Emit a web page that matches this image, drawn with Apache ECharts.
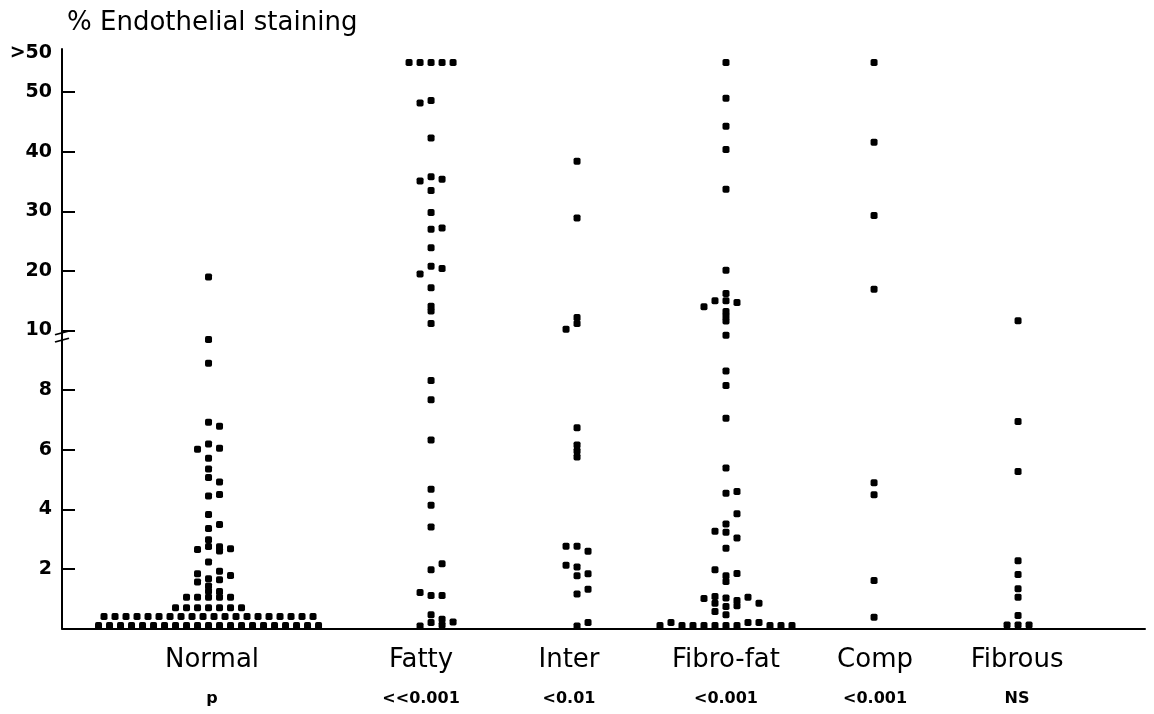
<!DOCTYPE html>
<html>
<head>
<meta charset="utf-8">
<script src="https://cdn.jsdelivr.net/npm/echarts@6/dist/echarts.min.js"></script>
<style>
html,body{margin:0;padding:0;background:#fff;}
#chart{width:1154px;height:714px;}
</style>
</head>
<body>
<div id="chart"></div>
<script>
// ---------- DATA ----------
const yTitle = '% Endothelial staining';
const categories = ['Normal', 'Fatty', 'Inter', 'Fibro-fat', 'Comp', 'Fibrous'];
const pValues = ['p', '<<0.001', '<0.01', '<0.001', '<0.001', 'NS'];

// y tick labels (0-10 linear, 10-50 compressed 5x, then ">50")
const yTickLabels = ['2', '4', '6', '8', '10', '20', '30', '40', '50', '>50'];

// each dot: [value (% staining), column within its dot-plot stack]
const normalDots = [
  [0.1,-10],[0.1,-9],[0.1,-8],[0.1,-7],[0.1,-6],[0.1,-5],[0.1,-4],[0.1,-3],[0.1,-2],[0.1,-1],[0.1,0],
  [0.1,1],[0.1,2],[0.1,3],[0.1,4],[0.1,5],[0.1,6],[0.1,7],[0.1,8],[0.1,9],[0.1,10],
  [0.4,-9.5],[0.4,-8.5],[0.4,-7.5],[0.4,-6.5],[0.4,-5.5],[0.4,-4.5],[0.4,-3.5],[0.4,-2.5],[0.4,-1.5],[0.4,-0.5],
  [0.4,0.5],[0.4,1.5],[0.4,2.5],[0.4,3.5],[0.4,4.5],[0.4,5.5],[0.4,6.5],[0.4,7.5],[0.4,8.5],[0.4,9.5],
  [0.7,-3],[0.7,-2],[0.7,-1],[0.7,0],[0.7,1],[0.7,2],[0.7,3],
  [1.05,-2],[1.05,-1],[1.05,0],[1.05,1],[1.05,2],
  [1.25,0],[1.43,0],[1.24,1],
  [1.84,-1],[1.56,-1],[1.67,0],[1.92,1],[1.64,1],[1.78,2],
  [2.23,0],
  [2.65,-1],[2.98,0],[2.75,0],[2.74,1],[2.6,1],[2.68,2],
  [3.36,0],[3.49,1],
  [3.83,0],
  [4.45,0],[4.5,1],
  [4.92,1],
  [5.07,0],[5.35,0],
  [5.71,0],
  [6.02,-1],[6.19,0],[6.05,1],
  [6.92,0],[6.79,1],
  [8.9,0],[9.7,0],[19,0]
];
const fattyDots = [
  ['>50',-2],['>50',-1],['>50',0],['>50',1],['>50',2],
  [48.2,-1],[48.6,0],
  [42.3,0],
  [35.1,-1],[35.8,0],[35.4,1],
  [33.5,0],[29.8,0],
  [27.0,0],[27.2,1],
  [23.9,0],
  [19.5,-1],[20.8,0],[20.4,1],
  [17.2,0],[14.1,0],[13.3,0],[11.2,0],
  [8.32,0],[7.68,0],[6.33,0],[4.67,0],[4.14,0],[3.41,0],
  [2.17,1],[1.97,0],
  [1.21,-1],[1.11,0],[1.11,1],
  [0.46,0],[0.2,0],[0.31,1],[0.12,1],[0.22,2],[0.08,-1]
];
const interDots = [
  [38.4,0],[28.9,0],[12.2,0],[11.2,0],[10.2,-1],
  [6.74,0],[6.16,0],[5.96,0],[5.76,0],
  [2.76,-1],[2.76,0],[2.59,1],
  [2.12,-1],[2.06,0],[1.77,0],[1.84,1],
  [1.16,0],[1.32,1],
  [0.08,0],[0.2,1]
];
const fibroFatDots = [
  ['>50',0],[49.0,0],[44.3,0],[40.4,0],[33.7,0],[20.1,0],
  [16.2,0],[15.0,0],[15.0,-1],[14.0,-2],[14.7,1],
  [13.2,0],[12.4,0],[11.6,0],
  [9.84,0],[8.64,0],[8.16,0],[7.06,0],[5.39,0],
  [4.54,0],[4.6,1],
  [3.85,1],
  [3.51,0],[3.26,-1],[3.23,0],[3.04,1],
  [2.69,0],
  [1.97,-1],[1.77,0],[1.58,0],[1.85,1],
  [1.01,-2],[1.07,-1],[0.85,-1],[0.57,-1],[1.02,0],[0.74,0],[0.46,0],[0.94,1],[0.76,1],[1.05,2],[0.85,3],
  [0.1,-6],[0.2,-5],[0.1,-4],[0.1,-3],[0.1,-2],[0.1,-1],[0.1,0],[0.1,1],[0.2,2],[0.2,3],[0.1,4],[0.1,5],[0.1,6]
];
const compDots = [
  ['>50',0],[41.6,0],[29.3,0],[16.95,0],[4.89,0],[4.49,0],[1.61,0],[0.38,0]
];
const fibrousDots = [
  [11.65,0],[6.95,0],[5.27,0],[2.27,0],[1.81,0],[1.33,0],[1.05,0],[0.44,0],[0.12,0],[0.12,-1],[0.12,1]
];
const groupDots = [normalDots, fattyDots, interDots, fibroFatDots, compDots, fibrousDots];

// ---------- LAYOUT (x axis measured in dot-column widths) ----------
const X_MAX = 98.45;
const groupCentres = [13.32, 33.55, 46.82, 60.36, 73.82, 86.91];
const labelCentres = [13.64, 32.64, 46.09, 60.36, 73.91, 86.82];
const Y_MAX = 19.45;
const OVER_50_LABEL_AT = 19.3;
const BREAK_MARK_AT = 9.8;

// broken scale: linear 0-10, then 10 units of value per 2 axis units
function toScale(v) {
  if (v === '>50') return 19;
  return v <= 10 ? v : 10 + (v - 10) / 5;
}
const yLabelPositions = yTickLabels.map(l => l === '>50' ? OVER_50_LABEL_AT : toScale(Number(l)));
const yTickPositions = yTickLabels.filter(l => l !== '>50').map(l => toScale(Number(l)));

const FONT = 'DejaVu Sans';

const series = groupDots.map((dots, g) => ({
  name: categories[g],
  type: 'scatter',
  symbol: 'roundRect',
  symbolSize: 7,
  silent: true,
  clip: false,
  itemStyle: { color: '#000', opacity: 1 },
  data: dots.map(([v, col]) => [groupCentres[g] + col, toScale(v)])
}));
series.push({
  name: 'axis break',
  type: 'scatter',
  silent: true,
  clip: false,
  symbol: 'path://M0,4 L14,0 M0,12 L14,8',
  symbolSize: [14, 11],
  itemStyle: { color: 'none', borderColor: '#000', borderWidth: 1.8, opacity: 1 },
  data: [[0, BREAK_MARK_AT]]
});

const chart = echarts.init(document.getElementById('chart'), null, { renderer: 'canvas' });
chart.setOption({
  animation: false,
  backgroundColor: '#fff',
  title: {
    text: yTitle,
    left: 62,
    top: 5,
    textStyle: { fontFamily: FONT, fontSize: 26, fontWeight: 'normal', color: '#000' }
  },
  grid: { left: 62, right: 9, top: 49, bottom: 85.5, containLabel: false },
  xAxis: {
    type: 'value',
    min: 0,
    max: X_MAX,
    splitLine: { show: false },
    axisTick: { show: false },
    axisLine: { show: true, onZero: false, lineStyle: { color: '#000', width: 2 } },
    axisLabel: {
      customValues: labelCentres,
      margin: 12,
      formatter: function (val) {
        let idx = 0, best = Infinity;
        labelCentres.forEach((c, i) => { const d = Math.abs(c - val); if (d < best) { best = d; idx = i; } });
        return '{c|' + categories[idx] + '}\n{p|' + pValues[idx] + '}';
      },
      rich: {
        c: { fontFamily: FONT, fontSize: 26, color: '#000', lineHeight: 40 },
        p: { fontFamily: FONT, fontSize: 16, fontWeight: 'bold', color: '#000', lineHeight: 36 }
      }
    }
  },
  yAxis: {
    type: 'value',
    min: 0,
    max: Y_MAX,
    splitLine: { show: false },
    axisLine: { show: true, onZero: false, lineStyle: { color: '#000', width: 2 } },
    axisTick: { show: true, inside: true, length: 13, customValues: yTickPositions, lineStyle: { color: '#000', width: 2 } },
    axisLabel: {
      customValues: yLabelPositions,
      margin: 10,
      fontFamily: FONT,
      fontWeight: 'bold',
      fontSize: 19,
      color: '#000',
      formatter: function (val) {
        let idx = 0, best = Infinity;
        yLabelPositions.forEach((p, i) => { const d = Math.abs(p - val); if (d < best) { best = d; idx = i; } });
        return yTickLabels[idx];
      }
    }
  },
  series: series
});
</script>
</body>
</html>
